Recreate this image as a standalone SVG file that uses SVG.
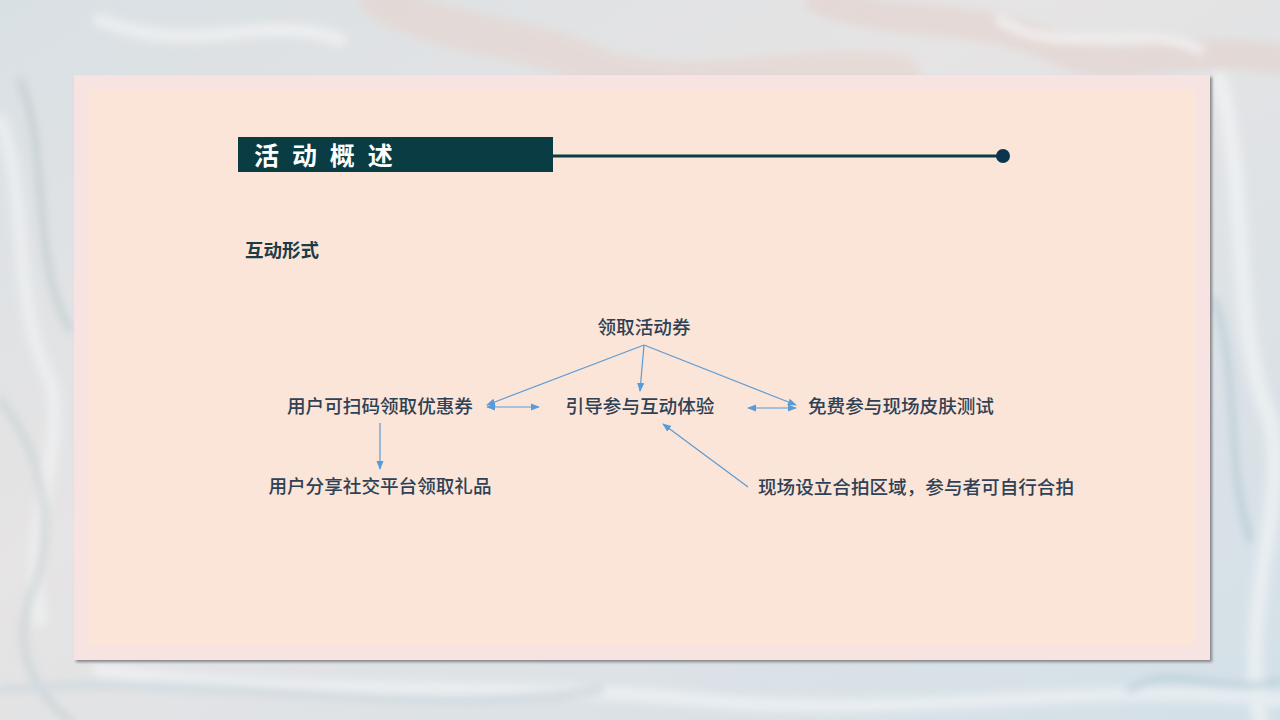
<svg xmlns="http://www.w3.org/2000/svg" width="1280" height="720" viewBox="0 0 1280 720">
<defs>
<style>
.t{font-family:"Noto Sans CJK SC","Noto Sans",sans-serif;font-size:18.6px;fill:#2f4155;text-anchor:middle;font-weight:500}
.c{stroke:#5b9bd5;stroke-width:1.2;fill:none}
.sw{fill:none;stroke-linecap:round}
</style>
<marker id="ah" viewBox="0 0 10 10" refX="9" refY="5" markerWidth="9" markerHeight="9" markerUnits="userSpaceOnUse" orient="auto-start-reverse">
<path d="M0,1 L10,5 L0,9 Z" fill="#5b9bd5"/>
</marker>
<linearGradient id="bg" x1="0" y1="0" x2="1" y2="1">
<stop offset="0" stop-color="#d9e0e4"/>
<stop offset="0.4" stop-color="#e6e4e4"/>
<stop offset="1" stop-color="#d3e0e8"/>
</linearGradient>
<filter id="blur" x="-10%" y="-10%" width="120%" height="120%"><feGaussianBlur stdDeviation="4"/></filter>
<filter id="sh" x="-5%" y="-5%" width="110%" height="110%"><feDropShadow dx="2" dy="2" stdDeviation="1.5" flood-color="#6a6a6a" flood-opacity="0.8"/></filter>
</defs>
<g id="background">
<rect width="1280" height="720" fill="url(#bg)"/>
<g filter="url(#blur)" opacity="0.6">
<path class="sw" d="M380,0 C450,40 520,30 600,70 C700,100 800,60 900,75" stroke="#e6d4ce" stroke-width="40"/>
<path class="sw" d="M820,0 C900,30 980,10 1060,50 C1120,80 1180,40 1280,60" stroke="#e3d2cc" stroke-width="30"/>
<path class="sw" d="M0,120 C30,200 10,300 50,380 C70,450 20,520 40,620" stroke="#f2f4f5" stroke-width="14"/>
<path class="sw" d="M20,80 C50,150 30,260 70,330" stroke="#9fb3b5" stroke-width="4"/>
<path class="sw" d="M0,400 C40,450 60,520 30,600 C10,650 40,700 70,720" stroke="#b9c9cc" stroke-width="6"/>
<path class="sw" d="M1220,80 C1250,200 1230,320 1270,420 C1290,500 1240,600 1260,720" stroke="#f4f7f8" stroke-width="16"/>
<path class="sw" d="M1215,300 C1240,380 1225,460 1250,540" stroke="#8fb0bb" stroke-width="4"/>
<path class="sw" d="M100,670 C300,700 500,680 700,700 C900,720 1100,680 1280,700" stroke="#f3f6f8" stroke-width="14"/>
<path class="sw" d="M0,690 C200,670 400,720 600,690" stroke="#c7d4db" stroke-width="8"/>
<path class="sw" d="M100,20 C200,60 260,10 340,40" stroke="#f5f5f5" stroke-width="14"/>
<path class="sw" d="M1000,20 C1060,60 1140,20 1200,50" stroke="#f7f3f1" stroke-width="10"/>
<path class="sw" d="M1130,690 C1180,660 1220,700 1280,680" stroke="#a9c4cf" stroke-width="6"/>
</g>
</g>
<g id="frame">
<rect x="74" y="75" width="1136" height="585" fill="#f7e4e2" filter="url(#sh)"/>
<rect x="88" y="89" width="1108" height="556" fill="#fbe5d8"/>
</g>
<g id="header">
<rect x="238" y="137" width="315" height="35" fill="#093c43"/>
<text x="254" y="165" font-family="'Noto Sans CJK SC',sans-serif" font-size="25" font-weight="bold" fill="#ffffff" letter-spacing="3.6">活 动 概 述</text>
<line x1="553" y1="156" x2="1000" y2="156" stroke="#093c43" stroke-width="3"/>
<circle cx="1003" cy="156" r="7" fill="#0c3450"/>
</g>
<g id="subtitle">
<text x="245" y="257" font-family="'Noto Sans CJK SC',sans-serif" font-size="18.5" font-weight="bold" fill="#1e3a45">互动形式</text>
</g>
<g id="connectors">
<line class="c" x1="644" y1="345" x2="487" y2="405" marker-end="url(#ah)"/>
<line class="c" x1="644" y1="345" x2="640" y2="391" marker-end="url(#ah)"/>
<line class="c" x1="644" y1="345" x2="796" y2="405" marker-end="url(#ah)"/>
<line class="c" x1="487" y1="407" x2="539" y2="407" marker-start="url(#ah)" marker-end="url(#ah)"/>
<line class="c" x1="748" y1="408" x2="796" y2="408" marker-start="url(#ah)" marker-end="url(#ah)"/>
<line class="c" x1="380" y1="423" x2="380" y2="469" marker-end="url(#ah)"/>
<line class="c" x1="748" y1="487" x2="663" y2="424" marker-end="url(#ah)"/>
</g>
<g id="n1"><text class="t" x="644" y="334">领取活动券</text></g>
<g id="n2"><text class="t" x="380" y="413">用户可扫码领取优惠券</text></g>
<g id="n3"><text class="t" x="640" y="413">引导参与互动体验</text></g>
<g id="n4"><text class="t" x="901" y="413">免费参与现场皮肤测试</text></g>
<g id="n5"><text class="t" x="380" y="493">用户分享社交平台领取礼品</text></g>
<g id="n6"><text class="t" x="916" y="494">现场设立合拍区域，参与者可自行合拍</text></g>
</svg>
